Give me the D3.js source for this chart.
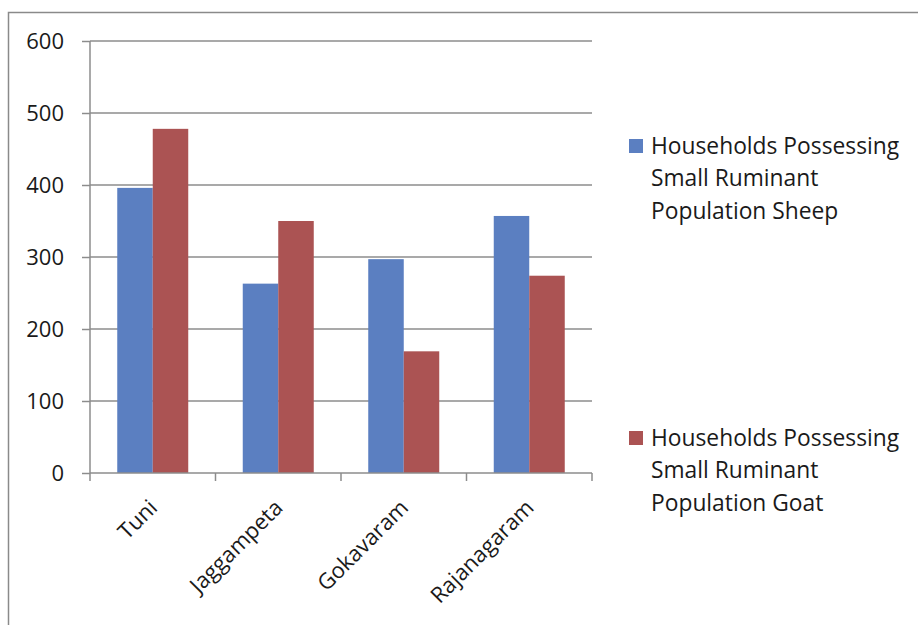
<!DOCTYPE html>
<html><head><meta charset="utf-8">
<script src="https://cdn.jsdelivr.net/npm/d3@7"></script>
<style>body{margin:0;background:#fff}svg{display:block}</style>
</head><body>
<svg id="c" width="918" height="625"></svg>
<script>
const categories = ["Tuni","Jaggampeta","Gokavaram","Rajanagaram"];
const seriesNames = ["Households Possessing Small Ruminant Population Sheep","Households Possessing Small Ruminant Population Goat"];
const sheep = [396, 263, 297, 357];
const goat = [478, 350, 169, 274];
const yTicks = [0,100,200,300,400,500,600];
const colors = ["#5b7fc1","#ab5353"];

const svg = d3.select("#c");
const font = "'Open Sans', sans-serif";
svg.append("rect").attr("x",8.5).attr("y",12.5).attr("width",930).attr("height",640)
  .attr("fill","none").attr("stroke","#8a8a8a").attr("stroke-width",1.5);

const L=90, R=592, T=41, B=473;
const x = d3.scaleBand().domain(categories).range([L,R]);
const y = d3.scaleLinear().domain([0,600]).range([B,T]);
const bw = 35.5;

svg.append("g").selectAll("line").data(yTicks.filter(d=>d>0)).join("line")
  .attr("x1",L).attr("x2",R).attr("y1",d=>y(d)).attr("y2",d=>y(d))
  .attr("stroke","#8c8c8c").attr("stroke-width",1.5);

const series=[sheep,goat];
series.forEach((vals,si)=>{
  svg.append("g").selectAll("rect").data(categories).join("rect")
    .attr("x",(c)=>x(c)+x.bandwidth()/2 - bw + si*bw)
    .attr("width",bw)
    .attr("y",(c,i)=>y(vals[i]))
    .attr("height",(c,i)=>y(0)-y(vals[i]))
    .attr("fill",colors[si]);
});

const ya = svg.append("g").attr("transform",`translate(${L},0)`)
  .call(d3.axisLeft(y).tickValues(yTicks).tickSize(8).tickPadding(18));
ya.select(".domain").attr("stroke","#8c8c8c").attr("stroke-width",1.5).attr("d",`M0,${T}V${B}`);
ya.selectAll(".tick line").attr("stroke","#8c8c8c").attr("stroke-width",1.5);
ya.selectAll("text").attr("font-family",font).attr("font-size",22).attr("fill","#1a1a1a");

const xa = svg.append("g").attr("transform",`translate(0,${B})`)
  .call(d3.axisBottom(x).tickSize(0).tickPadding(0));
xa.select(".domain").attr("stroke","#8c8c8c").attr("stroke-width",1.5).attr("d",`M${L},0H${R}`);
xa.selectAll(".tick line").remove();
xa.append("g").selectAll("line").data(d3.range(categories.length+1)).join("line")
  .attr("x1",i=>L+i*x.step()).attr("x2",i=>L+i*x.step()).attr("y1",0).attr("y2",8)
  .attr("stroke","#8c8c8c").attr("stroke-width",1.5);
xa.selectAll(".tick text").attr("font-family",font).attr("font-size",22).attr("fill","#1a1a1a")
  .attr("text-anchor","end").attr("dy","0")
  .attr("transform","translate(6,36) rotate(-45)");

const leg = [{y:146},{y:438}];
const lines = [["Households Possessing","Small Ruminant","Population Sheep"],["Households Possessing","Small Ruminant","Population Goat"]];
leg.forEach((l,i)=>{
  svg.append("rect").attr("x",629).attr("y",l.y-7).attr("width",14).attr("height",14).attr("fill",colors[i]);
  const t = svg.append("text").attr("font-family",font).attr("font-size",22.8).attr("fill","#1a1a1a");
  lines[i].forEach((s,j)=>t.append("tspan").attr("x",651).attr("y",l.y+7.5+j*32.5).text(s));
});
</script>
</body></html>
